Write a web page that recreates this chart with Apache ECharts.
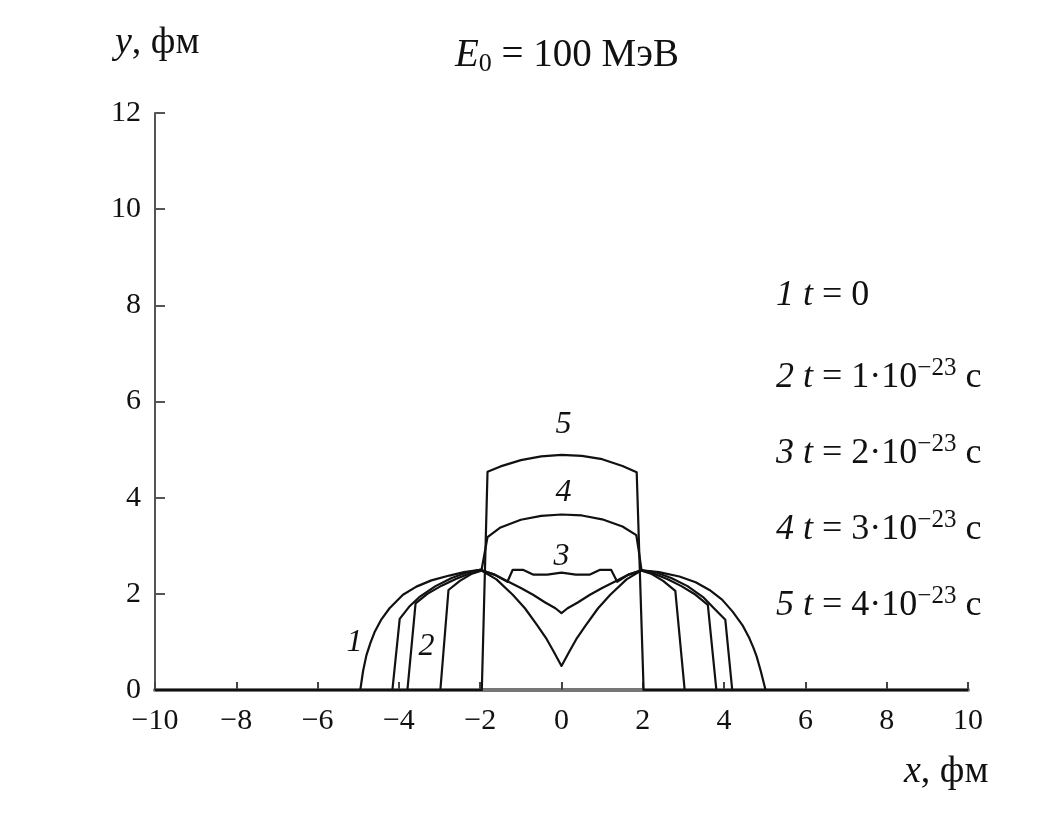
<!DOCTYPE html>
<html>
<head>
<meta charset="utf-8">
<script src="https://cdn.jsdelivr.net/npm/echarts@6/dist/echarts.min.js"></script>
<style>
html,body{margin:0;padding:0;background:#fff;}
#chart{width:1063px;height:821px;}
</style>
</head>
<body>
<div id="chart"></div>
<script>
// ---- data (x, y in fm) ----
var xTicks = [-10, -8, -6, -4, -2, 0, 2, 4, 6, 8, 10];
var yTicks = [0, 2, 4, 6, 8, 10, 12];

var curve1 = [[-10,0],[-4.95,0],[-4.88,0.4],[-4.8,0.72],[-4.7,0.98],[-4.6,1.2],[-4.43,1.47],[-4.23,1.7],[-3.9,1.98],[-3.57,2.15],[-3.2,2.28],[-2.76,2.38],[-2.4,2.45],[-2.0,2.5],
  [-1.6,2.3],[-1.2,1.98],[-0.9,1.7],[-0.6,1.35],[-0.38,1.08],[-0.18,0.78],[0,0.5],
  [0.18,0.78],[0.38,1.08],[0.6,1.35],[0.9,1.7],[1.2,1.98],[1.6,2.3],[1.97,2.49],
  [2.4,2.45],[2.9,2.36],[3.3,2.24],[3.64,2.08],[3.95,1.88],[4.21,1.63],[4.45,1.35],[4.62,1.08],[4.72,0.88],[4.8,0.7],[4.9,0.4],[5.02,0],[10,0]];

var curve2 = [[-10,0],[-4.16,0],[-3.98,1.48],[-3.75,1.73],[-3.5,1.93],[-3.1,2.16],[-2.7,2.33],[-2.35,2.44],[-2.0,2.5],
  [-1.65,2.4],[-1.33,2.26],[-1.0,2.12],[-0.7,1.98],[-0.4,1.82],[-0.15,1.7],[0,1.6],
  [0.15,1.7],[0.4,1.82],[0.7,1.98],[1.0,2.12],[1.33,2.26],[1.65,2.4],[1.97,2.49],
  [2.35,2.44],[2.7,2.33],[3.1,2.16],[3.5,1.92],[3.75,1.7],[4.03,1.46],[4.2,0],[10,0]];

var curve3 = [[-10,0],[-3.79,0],[-3.59,1.8],[-3.3,2.0],[-2.95,2.17],[-2.6,2.31],[-2.3,2.41],[-2.0,2.5],
  [-1.65,2.4],[-1.33,2.25],[-1.2,2.5],[-0.95,2.5],[-0.7,2.4],[-0.35,2.4],[0,2.44],[0.35,2.4],[0.7,2.4],[0.95,2.5],[1.22,2.5],[1.37,2.25],[1.65,2.4],[1.97,2.49],
  [2.3,2.41],[2.6,2.31],[2.95,2.16],[3.3,1.98],[3.6,1.77],[3.81,0],[10,0]];

var curve4 = [[-10,0],[-2.98,0],[-2.78,2.08],[-2.5,2.27],[-2.2,2.42],[-1.97,2.48],
  [-1.88,2.9],[-1.82,3.18],[-1.5,3.38],[-1.0,3.54],[-0.5,3.62],[0,3.65],[0.5,3.63],[1.0,3.55],[1.5,3.4],[1.84,3.22],[1.9,2.9],[1.97,2.48],
  [2.2,2.42],[2.5,2.27],[2.8,2.06],[3.03,0],[10,0]];

var curve5 = [[-10,0],[-1.96,0],[-1.82,4.54],[-1.5,4.65],[-1.0,4.78],[-0.5,4.86],[0,4.89],[0.5,4.87],[1.0,4.8],[1.5,4.66],[1.85,4.53],[2.02,0],[10,0]];

var curveLabels = [['1',-5.09,0.98],['2',-3.32,0.91],['3',0.0,2.77],['4',0.05,4.1],['5',0.05,5.53]];
var legendNums = ['1','2','3','4','5'];
var legendVals = ['0','1','2','3','4'];
var titleMain = 'E';
var titleSub = '0';
var titleRest = ' = 100 МэВ';
var xName = ['x', ', фм'];
var yName = ['y', ', фм'];

// ---- chart ----
var FONT = '"Liberation Serif", "Times New Roman", serif';
var chart = echarts.init(document.getElementById('chart'));

function lineSeries(d){
  return {type:'line', data:d, showSymbol:false, symbol:'none', smooth:false, z:3,
    lineStyle:{color:'#111', width:2.2, join:'round'}, animation:false};
}

var legendGraphics = [];
var legendY = [300, 378, 454, 530, 606];
for (var i = 0; i < legendNums.length; i++) {
  var txt = legendVals[i] === '0'
    ? '{i|' + legendNums[i] + ' t}{n| = 0}'
    : '{i|' + legendNums[i] + ' t}{n| = ' + legendVals[i] + '·10}{s|−23}{n| с}';
  legendGraphics.push({
    type:'text', left:776, top:legendY[i]-22,
    style:{text:txt, fill:'#111',
      rich:{
        i:{fontFamily:FONT, fontStyle:'italic', fontSize:36, lineHeight:44, fill:'#111', verticalAlign:'middle'},
        n:{fontFamily:FONT, fontSize:36, lineHeight:44, fill:'#111', verticalAlign:'middle'},
        s:{fontFamily:FONT, fontSize:25, lineHeight:44, fill:'#111', verticalAlign:'top'}
      }}
  });
}

var option = {
  animation:false,
  backgroundColor:'#fff',
  grid:{left:155, right:95, top:113, bottom:131, containLabel:false},
  xAxis:{type:'value', min:-10, max:10, interval:2,
    axisLine:{show:true, onZero:false, lineStyle:{color:'#777', width:4}},
    axisTick:{show:true, inside:true, length:8, lineStyle:{color:'#444', width:2}},
    axisLabel:{fontFamily:FONT, fontSize:30, color:'#111', margin:16,
      formatter:function(v){ return xTicks.indexOf(v) >= 0 ? String(v).replace('-', '−') : ''; }},
    splitLine:{show:false}
  },
  yAxis:{type:'value', min:0, max:12, interval:2,
    axisLine:{show:true, onZero:false, lineStyle:{color:'#555', width:2}},
    axisTick:{show:true, inside:true, length:10, lineStyle:{color:'#555', width:2}},
    axisLabel:{fontFamily:FONT, fontSize:30, color:'#111', margin:14,
      formatter:function(v){ return yTicks.indexOf(v) >= 0 ? String(v) : ''; }},
    splitLine:{show:false}
  },
  series:[
    lineSeries(curve1), lineSeries(curve2), lineSeries(curve3), lineSeries(curve4), lineSeries(curve5),
    {type:'scatter', symbolSize:1, z:5, animation:false,
      itemStyle:{opacity:0},
      data:curveLabels.map(function(c){ return {name:c[0], value:[c[1], c[2]]}; }),
      label:{show:true, position:'inside', formatter:'{b}', fontFamily:FONT, fontStyle:'italic', fontSize:32, color:'#111', opacity:1}
    }
  ],
  graphic:[
    {type:'text', left:455, top:36, style:{
      text:'{e|' + titleMain + '}{sub|' + titleSub + '}{n|' + titleRest + '}',
      rich:{
        e:{fontFamily:FONT, fontStyle:'italic', fontSize:39, lineHeight:44, fill:'#111', verticalAlign:'middle'},
        sub:{fontFamily:FONT, fontSize:26, lineHeight:44, fill:'#111', verticalAlign:'bottom'},
        n:{fontFamily:FONT, fontSize:39, lineHeight:44, fill:'#111', verticalAlign:'middle'}
      }}},
    {type:'text', left:115, top:24, style:{
      text:'{i|' + yName[0] + '}{n|' + yName[1] + '}',
      rich:{
        i:{fontFamily:FONT, fontStyle:'italic', fontSize:38, lineHeight:42, fill:'#111'},
        n:{fontFamily:FONT, fontSize:38, lineHeight:42, fill:'#111'}
      }}},
    {type:'text', left:904, top:753, style:{
      text:'{i|' + xName[0] + '}{n|' + xName[1] + '}',
      rich:{
        i:{fontFamily:FONT, fontStyle:'italic', fontSize:38, lineHeight:42, fill:'#111'},
        n:{fontFamily:FONT, fontSize:38, lineHeight:42, fill:'#111'}
      }}}
  ].concat(legendGraphics)
};
chart.setOption(option);
</script>
</body>
</html>
